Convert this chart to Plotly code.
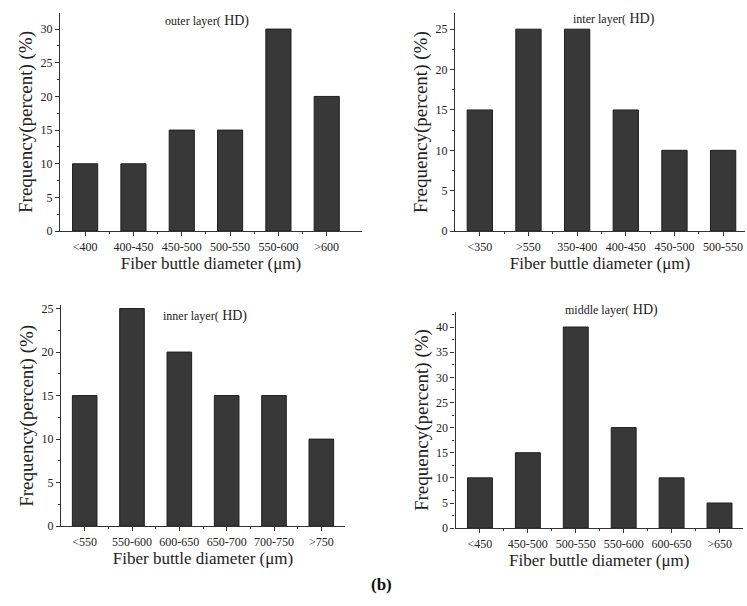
import plotly.graph_objects as go

# ---------------- data ----------------
outer_categories = ["<400", "400-450", "450-500", "500-550", "550-600", ">600"]
outer_values = [10, 10, 15, 15, 30, 20]

inter_categories = ["<350", ">550", "350-400", "400-450", "450-500", "500-550"]
inter_values = [15, 25, 25, 15, 10, 10]

inner_categories = ["<550", "550-600", "600-650", "650-700", "700-750", ">750"]
inner_values = [15, 25, 20, 15, 15, 10]

middle_categories = ["<450", "450-500", "500-550", "550-600", "600-650", ">650"]
middle_values = [10, 15, 40, 20, 10, 5]

panel_titles = ["outer layer(", "inter layer(", "inner layer(", "middle layer("]
x_title = "Fiber buttle diameter (μm)"
y_title = "Frequency(percent) (%)"

W, H = 747, 606
FONT = "Liberation Serif"
BAR_FILL = "#383838"

def px_x(p):
    return p / W

def px_y(p):
    # small vertical correction measured from previous renders
    q = (p - 2.0) / 0.99
    return 1 - q / H

panels = [
    dict(cats=outer_categories, vals=outer_values, title=panel_titles[0],
         box=(60, 362, 11, 231), xr=[-0.52, 5.73], yr=[0, 32.4], dt=5,
         tpos=(207, 19)),
    dict(cats=inter_categories, vals=inter_values, title=panel_titles[1],
         box=(455, 745, 11.5, 231), xr=[-0.51, 5.45], yr=[0, 26.95], dt=5,
         tpos=(614, 17)),
    dict(cats=inner_categories, vals=inner_values, title=panel_titles[2],
         box=(61, 345, 306, 528.5), xr=[-0.5, 5.5], yr=[0, 25.35], dt=5,
         tpos=(205, 317)),
    dict(cats=middle_categories, vals=middle_values, title=panel_titles[3],
         box=(455.5, 743, 312.5, 530.5), xr=[-0.51, 5.49], yr=[0, 43], dt=5,
         tpos=(611, 311)),
]

fig = go.Figure()
annotations = []
layout = {}
for i, p in enumerate(panels):
    n = i + 1
    xa = "x" if n == 1 else f"x{n}"
    ya = "y" if n == 1 else f"y{n}"
    xkey = "xaxis" if n == 1 else f"xaxis{n}"
    ykey = "yaxis" if n == 1 else f"yaxis{n}"
    idx = list(range(len(p["cats"])))
    fig.add_trace(go.Bar(
        x=idx, y=p["vals"], width=0.52,
        marker=dict(color=BAR_FILL, line=dict(color="#1e1e1e", width=1)),
        xaxis=xa, yaxis=ya, showlegend=False,
    ))
    x0, x1, yt, yb = p["box"]
    layout[xkey] = dict(
        domain=[px_x(x0), px_x(x1)], anchor=ya, range=p["xr"],
        tickmode="array", tickvals=idx, ticktext=p["cats"],
        ticks="outside", ticklen=4, tickwidth=1, tickcolor="#333",
        minor=dict(tickmode="array", tickvals=[k + 0.5 for k in idx[:-1]],
                   ticks="outside", ticklen=2, tickcolor="#333"),
        showline=True, linecolor="#333", linewidth=1.2,
        showgrid=False, zeroline=False, ticklabeloverflow="allow",
        tickfont=dict(family=FONT, size=12, color="#222"),
        title=dict(text=x_title, font=dict(family=FONT, size=17, color="#222"),
                   standoff=4),
        fixedrange=True,
    )
    layout[ykey] = dict(
        domain=[px_y(yb), px_y(yt)], anchor=xa, range=p["yr"],
        dtick=p["dt"], tick0=0,
        ticks="outside", ticklen=4, tickwidth=1, tickcolor="#333",
        minor=dict(dtick=p["dt"] / 2, ticks="outside", ticklen=2, tickcolor="#333"),
        showline=True, linecolor="#333", linewidth=1.2,
        showgrid=False, zeroline=False,
        tickfont=dict(family=FONT, size=12, color="#222"),
        title=dict(text=y_title, font=dict(family=FONT, size=19, color="#222"),
                   standoff=2),
        fixedrange=True,
    )
    tx, ty = p["tpos"]
    annotations.append(dict(
        x=px_x(tx), y=px_y(ty), xref="paper", yref="paper",
        text=f"<span style='font-size:12px'>{p['title']}</span><span style='font-size:14px'> HD)</span>",
        showarrow=False, xanchor="center", yanchor="middle",
        font=dict(family=FONT, size=12, color="#222"),
    ))

annotations.append(dict(
    x=px_x(381), y=px_y(587), xref="paper", yref="paper",
    text="<b>(b)</b>", showarrow=False, xanchor="center", yanchor="middle",
    font=dict(family=FONT, size=17, color="#111"),
))

fig.update_layout(
    width=W, height=H,
    margin=dict(l=0, r=0, t=0, b=0),
    paper_bgcolor="white", plot_bgcolor="white",
    bargap=0.48,
    annotations=annotations,
    **layout,
)

fig.write_html(
    "out.html",
    config={"displayModeBar": False},
    post_script="document.body.style.margin='0';document.body.style.overflow='hidden';",
)
